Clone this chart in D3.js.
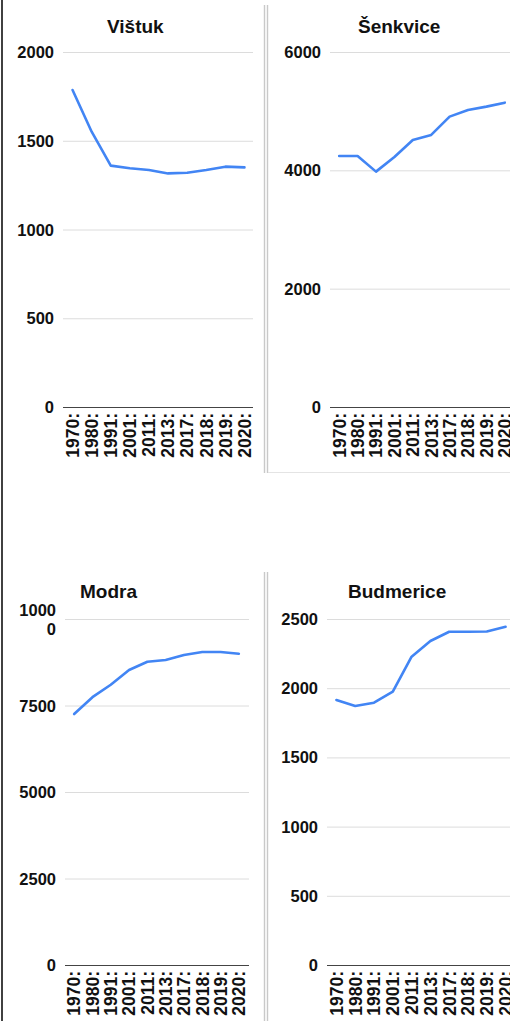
<!DOCTYPE html>
<html><head><meta charset="utf-8">
<script src="https://cdn.jsdelivr.net/npm/d3@7/dist/d3.min.js"></script>
<style>
html,body{margin:0;padding:0;background:#fff;}
svg{display:block;}
text{font-family:"Liberation Sans",Arial,sans-serif;font-weight:bold;fill:#111;}
</style></head>
<body>
<script>
const years = ["1970:", "1980:", "1991:", "2001:", "2011:", "2013:", "2017:", "2018:", "2019:", "2020:"];
const titles = ["Vištuk", "Šenkvice", "Modra", "Budmerice"];
const vistuk = [1786, 1551, 1360, 1345, 1335, 1316, 1320, 1335, 1354, 1350];
const senkvice = [4243, 4243, 3978, 4226, 4514, 4598, 4908, 5020, 5077, 5144];
const modra = [7254, 7740, 8100, 8526, 8766, 8815, 8960, 9046, 9046, 8997];
const budmerice = [1915, 1871, 1895, 1975, 2228, 2341, 2408, 2408, 2410, 2444];
const ticksVistuk = [0, 500, 1000, 1500, 2000];
const ticksSenkvice = [0, 2000, 4000, 6000];
const ticksModra = [0, 2500, 5000, 7500, 10000];
const ticksBudmerice = [0, 500, 1000, 1500, 2000, 2500];

const W = 510, H = 1021;
const svg = d3.select("body").append("svg").attr("width", W).attr("height", H);

const panels = [
  {title: titles[0], values: vistuk, ticks: ticksVistuk, max: 2000, x0: 63, x1: 254, gx1: 253, y0: 407, y1: 52, tx: 107, ty: 33},
  {title: titles[1], values: senkvice, ticks: ticksSenkvice, max: 6000, x0: 330, x1: 514, gx1: 510, y0: 407, y1: 52, tx: 358, ty: 33},
  {title: titles[2], values: modra, ticks: ticksModra, max: 10000, x0: 65, x1: 248, gx1: 249, y0: 965, y1: 619, tx: 80, ty: 598},
  {title: titles[3], values: budmerice, ticks: ticksBudmerice, max: 2500, x0: 327, x1: 515, gx1: 510, y0: 965, y1: 619, tx: 348, ty: 598}
];

// separators
svg.append("line").attr("x1", 2).attr("x2", 2).attr("y1", 0).attr("y2", H)
  .attr("stroke", "#111").attr("stroke-width", 1.6);
[[5, 473], [572, H]].forEach(([a, b]) => {
  [264.5, 267.5].forEach(x => {
    svg.append("line").attr("x1", x).attr("x2", x).attr("y1", a).attr("y2", b)
      .attr("stroke", "#c9c9c9").attr("stroke-width", 1.4);
  });
});
svg.append("line").attr("x1", 268).attr("x2", W).attr("y1", 472.5).attr("y2", 472.5)
  .attr("stroke", "#e4e4e4").attr("stroke-width", 1);

panels.forEach(p => {
  const g = svg.append("g");
  const x = d3.scalePoint().domain(years).range([p.x0, p.x1]).padding(0.5);
  const y = d3.scaleLinear().domain([0, p.max]).range([p.y0, p.y1]);

  // gridlines
  g.selectAll("line.grid").data(p.ticks.filter(t => t !== 0)).enter().append("line")
    .attr("x1", p.x0).attr("x2", p.gx1)
    .attr("y1", d => y(d) + 0.5).attr("y2", d => y(d) + 0.5)
    .attr("stroke", "#dcdcdc").attr("stroke-width", 1);
  // baseline
  g.append("line").attr("x1", p.x0).attr("x2", p.gx1)
    .attr("y1", y(0) + 0.5).attr("y2", y(0) + 0.5)
    .attr("stroke", "#444").attr("stroke-width", 1.2);

  // y labels
  p.ticks.forEach(t => {
    const s = String(t);
    const tx = g.append("text").attr("text-anchor", "end").attr("font-size", 16.5)
      .attr("x", p.x0 - 9);
    if (s.length > 4) {
      tx.append("tspan").attr("x", p.x0 - 9).attr("y", y(t) - 9 + 6).text(s.slice(0, 4));
      tx.append("tspan").attr("x", p.x0 - 9).attr("y", y(t) + 10 + 6).text(s.slice(4));
    } else {
      tx.attr("y", y(t) + 6).text(s);
    }
  });

  // x labels
  years.forEach(yr => {
    g.append("text").attr("text-anchor", "end").attr("font-size", 17.5)
      .attr("transform", `translate(${x(yr)},${p.y0 + 6}) rotate(-90)`)
      .attr("dy", "0.36em").text(yr);
  });

  // title
  g.append("text").attr("x", p.tx).attr("y", p.ty).attr("font-size", 19).text(p.title);

  // line
  const line = d3.line().x((d, i) => x(years[i])).y(d => y(d));
  g.append("path").datum(p.values).attr("d", line)
    .attr("fill", "none").attr("stroke", "#4285f4").attr("stroke-width", 2.6)
    .attr("stroke-linejoin", "round").attr("stroke-linecap", "round");
});
</script>
</body></html>
